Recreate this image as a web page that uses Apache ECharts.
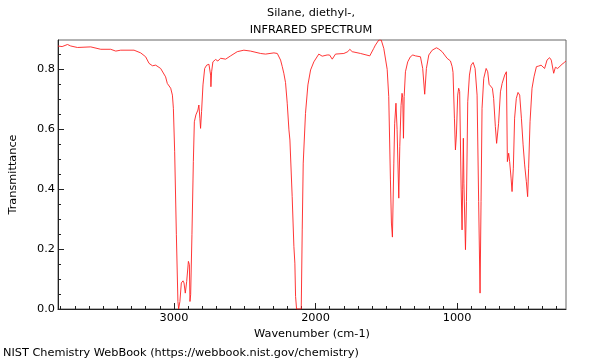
<!DOCTYPE html>
<html>
<head>
<meta charset="utf-8">
<script src="https://cdn.jsdelivr.net/npm/echarts@6/dist/echarts.min.js"></script>
<style>html,body{margin:0;padding:0;background:#fff}#c{width:600px;height:360px}</style>
</head>
<body>
<div id="c"></div>
<script>
const wavenumbers = [3819,3790,3776,3752,3729,3682,3588,3517,3447,3411,3376,3282,3235,3200,3176,3152,3129,3094,3059,3047,3023,3011,3004,2995,2983,2972,2967,2958,2948,2936,2929,2920,2910,2898,2891,2887,2882,2873,2863,2856,2845,2831,2824,2817,2812,2805,2795,2783,2769,2753,2741,2739,2734,2725,2706,2690,2670,2656,2635,2600,2553,2506,2459,2388,2353,2294,2270,2247,2235,2224,2212,2200,2188,2181,2165,2153,2146,2141,2134,2101,2094,2087,2071,2054,2035,2012,1977,1953,1918,1901,1882,1859,1800,1772,1758,1741,1682,1617,1589,1577,1553,1536,1518,1513,1494,1483,1471,1464,1457,1447,1441,1432,1424,1412,1405,1396,1389,1384,1379,1374,1365,1349,1330,1313,1294,1282,1259,1243,1229,1217,1200,1176,1146,1130,1106,1071,1047,1035,1029,1019,1012,1005,996,989,982,972,965,961,956,952,941,934,925,913,901,887,873,859,848,838,831,824,812,795,784,774,760,751,742,730,721,707,694,682,671,664,652,645,636,629,619,612,603,594,582,570,558,546,534,523,511,502,495,485,471,457,440,424,407,395,382,365,347,335,318,306,290,276,259,243,231];
const transmittance = [0.878,0.876,0.873,0.883,0.878,0.873,0.875,0.867,0.867,0.861,0.864,0.864,0.855,0.842,0.820,0.812,0.814,0.803,0.775,0.753,0.737,0.714,0.670,0.525,0.248,0.025,0.0,0.025,0.087,0.094,0.087,0.053,0.092,0.159,0.148,0.025,0.048,0.248,0.492,0.625,0.648,0.664,0.681,0.637,0.603,0.659,0.748,0.803,0.814,0.817,0.781,0.742,0.792,0.825,0.833,0.828,0.837,0.841,0.834,0.845,0.859,0.864,0.861,0.853,0.851,0.855,0.853,0.831,0.809,0.787,0.756,0.687,0.598,0.564,0.375,0.209,0.153,0.042,0.0,0.0,0.264,0.487,0.653,0.748,0.798,0.825,0.851,0.844,0.848,0.848,0.834,0.851,0.853,0.859,0.867,0.859,0.853,0.845,0.870,0.881,0.898,0.898,0.870,0.864,0.800,0.709,0.431,0.287,0.240,0.487,0.620,0.687,0.600,0.370,0.542,0.680,0.720,0.705,0.570,0.709,0.792,0.825,0.842,0.848,0.845,0.850,0.842,0.803,0.717,0.803,0.848,0.864,0.872,0.868,0.859,0.837,0.828,0.809,0.790,0.637,0.531,0.581,0.714,0.737,0.726,0.414,0.264,0.400,0.570,0.420,0.198,0.359,0.692,0.781,0.814,0.823,0.803,0.714,0.359,0.053,0.359,0.670,0.770,0.803,0.792,0.750,0.750,0.737,0.703,0.609,0.553,0.620,0.725,0.753,0.759,0.781,0.792,0.492,0.520,0.492,0.437,0.392,0.470,0.637,0.703,0.723,0.714,0.637,0.548,0.481,0.425,0.375,0.470,0.625,0.737,0.775,0.809,0.811,0.814,0.811,0.803,0.831,0.839,0.831,0.787,0.807,0.803,0.809,0.817,0.823,0.828];
const xMajorTicks = [1000, 2000, 3000];
const xMinorTicks = [300,400,500,600,700,800,900,1100,1200,1300,1400,1500,1600,1700,1800,1900,2100,2200,2300,2400,2500,2600,2700,2800,2900,3100,3200,3300,3400,3500,3600,3700,3800];
const yMajorTicks = [0, 0.2, 0.4, 0.6, 0.8];
const yMinorTicks = [0.05,0.1,0.15,0.25,0.3,0.35,0.45,0.5,0.55,0.65,0.7,0.75,0.85];
const titleLines = ['Silane, diethyl-,', 'INFRARED SPECTRUM'];
const xAxisName = 'Wavenumber (cm-1)';
const yAxisName = 'Transmittance';
const footer = 'NIST Chemistry WebBook (https://webbook.nist.gov/chemistry)';

const FONT = 'DejaVu Sans';
const FS = 11.3;
const X_MIN = 231, X_MAX = 3819, Y_MIN = 0, Y_MAX = 0.898;
const AX = '#222';

const chart = echarts.init(document.getElementById('c'), null, {renderer: 'canvas'});
const xBase = {type: 'value', min: X_MIN, max: X_MAX, inverse: true, position: 'bottom', splitLine: {show: false}};
const yBase = {type: 'value', min: Y_MIN, max: Y_MAX, position: 'left', splitLine: {show: false}};
chart.setOption({
  animation: false,
  backgroundColor: '#fff',
  title: [
    {text: titleLines.join('\n'), left: 311, top: 4.5, textAlign: 'center', padding: 0,
     textStyle: {fontFamily: FONT, fontSize: FS, fontWeight: 'normal', color: '#000', lineHeight: 17}},
    {text: footer, left: 3, top: 347, padding: 0,
     textStyle: {fontFamily: FONT, fontSize: FS, fontWeight: 'normal', color: '#000', lineHeight: 13}}
  ],
  grid: {left: 57, right: 34, top: 40, bottom: 51, show: true, borderColor: '#666', borderWidth: 1, backgroundColor: 'transparent'},
  xAxis: [
    Object.assign({}, xBase, {
      name: xAxisName, nameLocation: 'middle', nameGap: 17,
      nameTextStyle: {fontFamily: FONT, fontSize: FS, color: '#000'},
      axisLine: {show: true, lineStyle: {color: AX, width: 1}},
      axisTick: {show: true, inside: true, length: 6, customValues: xMajorTicks, lineStyle: {color: AX}},
      axisLabel: {show: true, customValues: xMajorTicks, margin: 4, fontFamily: FONT, fontSize: FS, color: '#000',
                  formatter: v => String(Math.round(v))}
    }),
    Object.assign({}, xBase, {
      axisLine: {show: false},
      axisTick: {show: true, inside: true, length: 3, customValues: xMinorTicks, lineStyle: {color: AX}},
      axisLabel: {show: false}
    })
  ],
  yAxis: [
    Object.assign({}, yBase, {
      name: yAxisName, nameLocation: 'middle', nameGap: 39, nameRotate: 90,
      nameTextStyle: {fontFamily: FONT, fontSize: FS, color: '#000'},
      axisLine: {show: true, lineStyle: {color: AX, width: 1}},
      axisTick: {show: true, inside: true, length: 6, customValues: yMajorTicks, lineStyle: {color: AX}},
      axisLabel: {show: true, customValues: yMajorTicks, margin: 3, fontFamily: FONT, fontSize: FS, color: '#000',
                  formatter: v => Number(v).toFixed(1)}
    }),
    Object.assign({}, yBase, {
      axisLine: {show: false},
      axisTick: {show: true, inside: true, length: 3, customValues: yMinorTicks, lineStyle: {color: AX}},
      axisLabel: {show: false}
    })
  ],
  series: [{
    type: 'line',
    xAxisIndex: 0, yAxisIndex: 0,
    data: wavenumbers.map((w, i) => [w, transmittance[i]]),
    showSymbol: false, symbol: 'none', clip: true,
    lineStyle: {color: '#ff2020', width: 0.9},
    silent: true
  }]
});
</script>
</body>
</html>
